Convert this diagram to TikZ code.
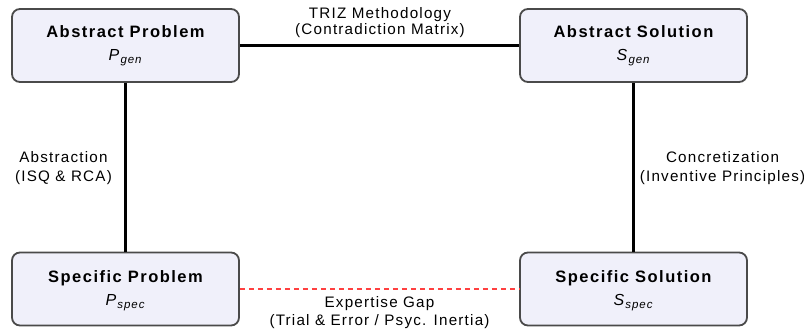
\documentclass[tikz,border=0pt]{standalone}
\usepackage{fontspec}
\setmainfont{Liberation Sans}[LetterSpace=8]
\newfontfamily\ttlfont{Liberation Sans}[LetterSpace=9]
\definecolor{boxfill}{HTML}{F0F0FA}
\definecolor{boxline}{HTML}{4A4A4A}
\definecolor{gapred}{HTML}{FF4040}
\newcommand{\symb}[2]{\fontsize{16}{16}\selectfont\textit{#1}\raisebox{-3pt}{\fontsize{11.5}{11.5}\selectfont\textit{#2}}}
\begin{document}
\begin{tikzpicture}[x=1pt,y=-1pt,
  stagebox/.style={draw=boxline, line width=1.8pt, fill=boxfill, rounded corners=8pt,
    minimum width=227pt, minimum height=73pt, inner sep=0pt},
  titletext/.style={anchor=base, inner sep=0pt, font=\ttlfont\bfseries\fontsize{16.5}{19}\selectfont},
  symtext/.style={anchor=base, inner sep=0pt},
  lbltext/.style={anchor=base, inner sep=0pt, font=\fontsize{15.2}{18}\selectfont},
  link/.style={line width=2.2pt, black},
  gaplink/.style={line width=1.1pt, gapred, dash pattern=on 5pt off 4pt}]
\useasboundingbox (0,0) rectangle (804,333);
\node[stagebox] (ap) at (125.5,45.5) {};
\node[stagebox] (as) at (633.5,45.5) {};
\node[stagebox] (sp) at (125.5,289) {};
\node[stagebox] (ss) at (633.5,289) {};
\draw[link] (ap.east) -- (as.west);
\draw[link] (ap.south) -- (sp.north);
\draw[link] (as.south) -- (ss.north);
\draw[gaplink] (sp.east) -- (ss.west);
\node[titletext] (apt) at (125.5,37.5) {Abstract Problem};
\node[symtext] (aps) at (125.5,60) {\symb{P}{gen}};
\node[titletext] (ast) at (633.5,37.5) {Abstract Solution};
\node[symtext] (ass) at (633.5,60) {\symb{S}{gen}};
\node[titletext] (spt) at (125.5,282.3) {Specific Problem};
\node[symtext] (sps) at (125.5,305) {\symb{P}{spec}};
\node[titletext] (sst) at (633.5,282.3) {Specific Solution};
\node[symtext] (sss) at (633.5,305) {\symb{S}{spec}};
\node[lbltext] (t1) at (380,18) {TRIZ Methodology};
\node[lbltext] (t2) at (380,34) {(Contradiction Matrix)};
\node[lbltext] (l1) at (63.5,162) {Abstraction};
\node[lbltext] (l2) at (63.5,181.5) {(ISQ \& RCA)};
\node[lbltext] (r1) at (722.5,162) {Concretization};
\node[lbltext] (r2) at (722.5,181.5) {(Inventive Principles)};
\node[lbltext] (b1) at (379.5,307) {Expertise Gap};
\node[lbltext] (b2) at (379.5,325) {(Trial \& Error / Psyc. Inertia)};
\end{tikzpicture}
\end{document}
